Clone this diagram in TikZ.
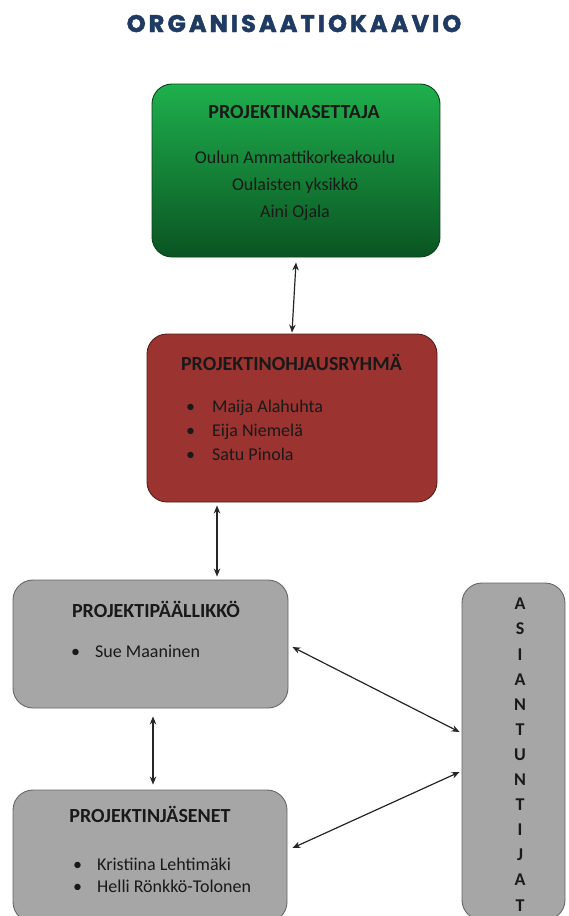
\documentclass[tikz,border=0pt]{standalone}
\usepackage{fontspec}
\setmainfont{Carlito}
\newfontfamily\titlefont{Poppins}[LetterSpace=13, FakeBold=2]
\usetikzlibrary{arrows.meta}
\definecolor{titleblue}{HTML}{1F3B63}
\definecolor{gtop}{HTML}{1FB04D}
\definecolor{gbot}{HTML}{0A5422}
\definecolor{redfill}{HTML}{9B3431}
\definecolor{grayfill}{HTML}{A6A6A6}
\tikzset{
  box/.style={draw, rounded corners=20pt, line width=0.9pt, inner sep=0pt},
  hdr/.style={font=\bfseries\fontsize{20}{22}\selectfont, text=black!90, inner sep=0pt, anchor=base},
  txt/.style={font=\fontsize{18}{20}\selectfont, text=black!90, inner sep=0pt, anchor=base},
  item/.style={font=\fontsize{18}{20}\selectfont, text=black!90, inner sep=0pt, anchor=base west},
  arr/.style={{Stealth[length=8pt,width=6.5pt]}-{Stealth[length=8pt,width=6.5pt]}, line width=1.2pt, draw=black!85}
}
\begin{document}
\begin{tikzpicture}[x=1pt,y=-1pt]
\useasboundingbox[fill=white] (0,0) rectangle (569,916);
% title
\node[font=\titlefont\bfseries\fontsize{24}{26}\selectfont, text=titleblue, inner sep=0pt, anchor=base] (title) at (294,32) {ORGANISAATIOKAAVIO};
% boxes
\node[box, draw=gbot!80!black, top color=gtop, bottom color=gbot, minimum width=288pt, minimum height=173pt] (set) at (296,170.5) {};
\node[box, draw=redfill!55!black, fill=redfill, minimum width=290pt, minimum height=168pt] (ohj) at (292,418) {};
\node[box, draw=black!60, fill=grayfill, minimum width=275pt, minimum height=128pt] (pm) at (150.5,644) {};
\node[box, draw=black!60, fill=grayfill, minimum width=274pt, minimum height=132pt] (jas) at (150,856) {};
\node[box, draw=black!60, fill=grayfill, minimum width=103pt, minimum height=337pt] (asi) at (513.5,751.5) {};
% texts green
\node[hdr] (h1) at (294,118) {PROJEKTINASETTAJA};
\node[txt] (t11) at (295,163) {Oulun Ammattikorkeakoulu};
\node[txt] (t12) at (295,190) {Oulaisten yksikkö};
\node[txt] (t13) at (295,217) {Aini Ojala};
% texts red
\node[hdr] (h2) at (291.5,370) {PROJEKTINOHJAUSRYHMÄ};
\node[item] (b21) at (186,412) {•};
\node[item] (t21) at (212,412) {Maija Alahuhta};
\node[item] (b22) at (186,436) {•};
\node[item] (t22) at (212,436) {Eija Niemelä};
\node[item] (b23) at (186,460) {•};
\node[item] (t23) at (212,460) {Satu Pinola};
% texts gray 1
\node[hdr] (h3) at (156,617) {PROJEKTIPÄÄLLIKKÖ};
\node[item] (b31) at (71,657) {•};
\node[item] (t31) at (95,657) {Sue Maaninen};
% texts gray 2
\node[hdr] (h4) at (150,822) {PROJEKTINJÄSENET};
\node[item] (b41) at (73,870) {•};
\node[item] (t41) at (97,870) {Kristiina Lehtimäki};
\node[item] (b42) at (73,892) {•};
\node[item] (t42) at (97,892) {Helli Rönkkö-Tolonen};
% vertical text
\node[font=\bfseries\fontsize{18}{25.1}\selectfont, text=black!90, align=center, inner sep=0pt, anchor=north] (vt) at (520,598)
  {A\\S\\I\\A\\N\\T\\U\\N\\T\\I\\J\\A\\T};
% connectors
\coordinate (c2) at (217,0);
\coordinate (c3) at (153,0);
\coordinate (y1) at (0,647);
\coordinate (y2) at (0,732);
\coordinate (y3) at (0,772);
\coordinate (y4) at (0,848);
\draw[arr] ([yshift=-5pt]set.south) -- ([yshift=1pt]ohj.north);
\draw[arr] ([yshift=-3pt]ohj.south -| c2) -- ([yshift=3pt]pm.north -| c2);
\draw[arr] ([yshift=-8pt]pm.south -| c3) -- ([yshift=5pt]jas.north -| c3);
\draw[arr] ([xshift=4pt]pm.east |- y1) -- ([xshift=-2pt]asi.west |- y2);
\draw[arr] ([xshift=-2pt]asi.west |- y3) -- ([xshift=5pt]jas.east |- y4);
\end{tikzpicture}
\end{document}
